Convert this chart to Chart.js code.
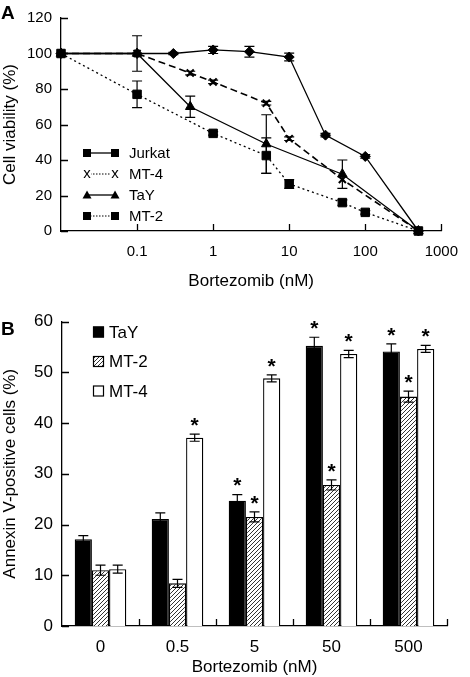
<!DOCTYPE html>
<html>
<head>
<meta charset="utf-8">
<script src="https://cdn.jsdelivr.net/npm/chart.js@4.4.0/dist/chart.umd.min.js"></script>
<style>
  html, body { margin: 0; padding: 0; background: #fff; }
  body { width: 470px; height: 677px; position: relative; overflow: hidden; font-family: "Liberation Sans", Arial, sans-serif; }
  #chartA { position: absolute; left: 0; top: 0; }
  #chartB { position: absolute; left: 0; top: 300px; }
  .panel { position: absolute; left: 1px; font-weight: bold; font-size: 19px; line-height: 22px; }
</style>
</head>
<body>
<canvas id="chartA" width="470" height="300"></canvas>
<canvas id="chartB" width="470" height="380"></canvas>
<div class="panel" style="top:2px">A</div>
<div class="panel" style="top:318px">B</div>
<script>
const FONT = '"Liberation Sans", Arial, Helvetica, sans-serif';

// Panel A - cell viability (%), control (0 nM) sits at the left edge (0.01)
const jurkatDose = [0.01, 0.1, 0.3, 1, 3, 10, 30, 100, 500];
const jurkatViability = [100, 100, 100, 102, 101, 98, 54, 42, 0];
const jurkatErr = [0, 0, 0.6, 2, 3, 2.2, 1, 1, 0];

const mt4Dose = [0.01, 0.1, 0.5, 1, 5, 10, 50, 500];
const mt4Viability = [100, 100, 89, 84, 72, 52, 29, 0];
const mt4Err = [0, 0, 1, 1, 1, 1, 0, 0];

const tayDose = [0.01, 0.1, 0.5, 5, 50, 500];
const tayViability = [100, 100, 70, 49, 32, 0];
const tayErr = [0, 10, 6, 16.5, 8, 0];

const mt2Dose = [0.01, 0.1, 1, 5, 10, 50, 100, 500];
const mt2Viability = [100, 77, 55, 42.5, 26.5, 16, 10.5, 0];
const mt2Err = [0, 7.5, 1, 10, 2.5, 1.5, 1, 0];

const xTicksA = [0.01, 0.1, 1, 10, 100, 1000];
const yTicksA = [0, 20, 40, 60, 80, 100, 120];
const legendNamesA = ['Jurkat', 'MT-4', 'TaY', 'MT-2'];

// Panel B - annexin V-positive cells (%)
const doseLabels = ['0', '0.5', '5', '50', '500'];
const tayAnnexin = [17.1, 21.1, 24.7, 55.2, 54.1];
const tayAnnexinErr = [0.7, 1.2, 1.2, 1.7, 1.5];
const taySig = [0, 0, 1, 1, 1];
const mt2Annexin = [11.0, 8.4, 21.5, 27.8, 45.2];
const mt2AnnexinErr = [1.0, 0.8, 1.0, 1.0, 1.1];
const mt2Sig = [0, 0, 1, 1, 1];
const mt4Annexin = [11.2, 37.1, 48.8, 53.6, 54.6];
const mt4AnnexinErr = [0.8, 0.7, 0.7, 0.7, 0.7];
const mt4Sig = [0, 1, 1, 1, 1];
const yTicksB = [0, 10, 20, 30, 40, 50, 60];

Chart.defaults.font.family = FONT;
Chart.defaults.color = '#000';

function points(xs, ys) {
  return xs.map((x, i) => ({ x: x, y: ys[i] }));
}

function valueOf(d) {
  return typeof d === 'object' ? d.y : d;
}

// short tick marks pointing into the plot
const innerTicks = {
  id: 'innerTicks',
  afterDraw(chart, args, opts) {
    const { ctx, chartArea: a, scales: { x, y } } = chart;
    ctx.save();
    ctx.strokeStyle = '#000';
    ctx.lineWidth = 1.3;
    ctx.beginPath();
    opts.xValues.forEach(v => {
      const px = Math.round(x.getPixelForValue(v)) + 0.5;
      ctx.moveTo(px, a.bottom);
      ctx.lineTo(px, a.bottom - 7);
    });
    opts.yValues.forEach(v => {
      const py = Math.round(y.getPixelForValue(v)) + 0.5;
      ctx.moveTo(a.left, py);
      ctx.lineTo(a.left + 7, py);
    });
    ctx.stroke();
    ctx.restore();
  }
};

// error bars (+ asterisks) from each dataset's errors / stars arrays
const errorBars = {
  id: 'errorBars',
  afterDatasetsDraw(chart, args, opts) {
    const { ctx, scales: { y } } = chart;
    ctx.save();
    ctx.strokeStyle = '#000';
    ctx.fillStyle = '#000';
    ctx.lineWidth = 1.2;
    chart.data.datasets.forEach((ds, di) => {
      const meta = chart.getDatasetMeta(di);
      (ds.errors || []).forEach((e, i) => {
        const el = meta.data[i];
        const v = valueOf(ds.data[i]);
        const top = y.getPixelForValue(v + e);
        if (e) {
          const bot = y.getPixelForValue(v - e);
          ctx.beginPath();
          ctx.moveTo(el.x, top); ctx.lineTo(el.x, bot);
          ctx.moveTo(el.x - opts.cap, top); ctx.lineTo(el.x + opts.cap, top);
          ctx.moveTo(el.x - opts.cap, bot); ctx.lineTo(el.x + opts.cap, bot);
          ctx.stroke();
        }
        if (ds.stars && ds.stars[i]) {
          ctx.font = 'bold 21px ' + FONT;
          ctx.textAlign = 'center';
          ctx.textBaseline = 'middle';
          ctx.fillText('*', el.x, top - 8);
        }
      });
    });
    ctx.restore();
  }
};

const legendA = {
  id: 'legendA',
  afterDraw(chart, args, opts) {
    const { ctx, chartArea: a } = chart;
    ctx.save();
    ctx.fillStyle = '#000';
    ctx.strokeStyle = '#000';
    ctx.font = '15px ' + FONT;
    ctx.textBaseline = 'middle';
    legendNamesA.forEach((name, i) => {
      const st = opts.styles[i];
      const y = a.top + 135 + i * 21;
      const x1 = a.left + 26, x2 = a.left + 54;
      ctx.lineWidth = st.dotted ? 1 : 1.3;
      ctx.setLineDash(st.dotted ? [1.5, 1.5] : []);
      ctx.beginPath();
      ctx.moveTo(x1, y); ctx.lineTo(x2, y);
      ctx.stroke();
      ctx.setLineDash([]);
      [x1, x2].forEach(mx => {
        if (st.marker === 'square') {
          ctx.fillRect(mx - 4, y - 4, 8, 8);
        } else if (st.marker === 'triangle') {
          ctx.beginPath();
          ctx.moveTo(mx, y - 4.5); ctx.lineTo(mx + 4.5, y + 3.5); ctx.lineTo(mx - 4.5, y + 3.5);
          ctx.closePath(); ctx.fill();
        } else {
          ctx.fillStyle = '#fff';
          ctx.fillRect(mx - 4, y - 5, 8, 10);
          ctx.fillStyle = '#000';
          ctx.textAlign = 'center';
          ctx.fillText('x', mx, y);
        }
      });
      ctx.textAlign = 'left';
      ctx.fillText(name, a.left + 68, y + 1);
    });
    ctx.restore();
  }
};

const legendB = {
  id: 'legendB',
  afterDraw(chart) {
    const { ctx, chartArea: a } = chart;
    ctx.save();
    ctx.font = '17px ' + FONT;
    ctx.textBaseline = 'middle';
    ctx.lineWidth = 1.2;
    chart.data.datasets.forEach((ds, i) => {
      const y = a.top + 10.5 + i * 29.5;
      const x = a.left + 31;
      ctx.fillStyle = ds.backgroundColor;
      ctx.fillRect(x, y - 5.5, 11, 11);
      ctx.strokeStyle = '#000';
      ctx.strokeRect(x + 0.5, y - 5, 10, 10);
      ctx.fillStyle = '#000';
      ctx.fillText(ds.label, x + 16, y + 1);
    });
    ctx.restore();
  }
};

const lineStyle = {
  borderColor: '#000', backgroundColor: '#000',
  pointBackgroundColor: '#000', pointBorderColor: '#000',
  borderWidth: 1.3, tension: 0, clip: false, fill: false
};

new Chart(document.getElementById('chartA'), {
  type: 'line',
  data: {
    datasets: [
      Object.assign({ label: 'Jurkat', data: points(jurkatDose, jurkatViability), errors: jurkatErr,
        pointStyle: 'rectRot', pointRadius: 5, pointBorderWidth: 1 }, lineStyle),
      Object.assign({ label: 'MT-4', data: points(mt4Dose, mt4Viability), errors: mt4Err,
        pointStyle: 'crossRot', pointRadius: 5, pointBorderWidth: 2 }, lineStyle, { borderDash: [7, 4], borderWidth: 1.6 }),
      Object.assign({ label: 'TaY', data: points(tayDose, tayViability), errors: tayErr,
        pointStyle: 'triangle', pointRadius: 5.5, pointBorderWidth: 1 }, lineStyle),
      Object.assign({ label: 'MT-2', data: points(mt2Dose, mt2Viability), errors: mt2Err,
        pointStyle: 'rect', pointRadius: 6, pointBorderWidth: 1 }, lineStyle, { borderDash: [2, 3], borderWidth: 1.3 })
    ]
  },
  options: {
    responsive: false,
    animation: false,
    layout: { padding: { top: 10, right: 23, bottom: 8, left: 0 } },
    plugins: {
      legend: { display: false },
      tooltip: { enabled: false },
      innerTicks: { xValues: xTicksA.slice(1), yValues: yTicksA },
      errorBars: { cap: 5 },
      legendA: { styles: [
        { marker: 'square', dotted: false },
        { marker: 'x', dotted: true },
        { marker: 'triangle', dotted: false },
        { marker: 'square', dotted: true }
      ] }
    },
    scales: {
      x: {
        type: 'logarithmic', min: 0.01, max: 1000,
        grid: { display: false, drawTicks: false },
        border: { display: true, color: '#000', width: 1.3 },
        afterBuildTicks: s => { s.ticks = xTicksA.map(v => ({ value: v })); },
        afterFit: s => { s.height = 61; },
        ticks: { autoSkip: false, maxRotation: 0, padding: 12, font: { size: 15 },
          callback: v => v === 0.01 ? '' : String(v) },
        title: { display: true, text: 'Bortezomib (nM)', font: { size: 17 }, padding: { top: 0, bottom: 0 } }
      },
      y: {
        min: 0, max: 120,
        grid: { display: false, drawTicks: false },
        border: { display: true, color: '#000', width: 1.3 },
        afterFit: s => { s.width = 61; },
        ticks: { stepSize: 20, padding: 9, font: { size: 15 } },
        title: { display: true, text: 'Cell viability (%)', font: { size: 17 }, padding: { top: 0, bottom: 0 } }
      }
    }
  },
  plugins: [innerTicks, errorBars, legendA]
});

// diagonal hatching for MT-2 bars
const tile = document.createElement('canvas');
tile.width = 4; tile.height = 4;
const tg = tile.getContext('2d');
tg.fillStyle = '#fff';
tg.fillRect(0, 0, 4, 4);
tg.strokeStyle = '#333';
tg.lineWidth = 1;
tg.beginPath();
tg.moveTo(0, 4); tg.lineTo(4, 0);
tg.moveTo(-1, 1); tg.lineTo(1, -1);
tg.moveTo(3, 5); tg.lineTo(5, 3);
tg.stroke();
const ctxB = document.getElementById('chartB').getContext('2d');
const hatch = ctxB.createPattern(tile, 'repeat');

new Chart(ctxB, {
  type: 'bar',
  data: {
    labels: doseLabels,
    datasets: [
      { label: 'TaY', data: tayAnnexin, errors: tayAnnexinErr, stars: taySig,
        backgroundColor: '#000', borderColor: '#000', borderWidth: 1.3 },
      { label: 'MT-2', data: mt2Annexin, errors: mt2AnnexinErr, stars: mt2Sig,
        backgroundColor: hatch, borderColor: '#000', borderWidth: 1.3 },
      { label: 'MT-4', data: mt4Annexin, errors: mt4AnnexinErr, stars: mt4Sig,
        backgroundColor: '#fff', borderColor: '#000', borderWidth: 1.3 }
    ]
  },
  options: {
    responsive: false,
    animation: false,
    layout: { padding: { top: 21.5, right: 23, bottom: 0, left: 0 } },
    datasets: { bar: { categoryPercentage: 0.67, barPercentage: 1 } },
    plugins: {
      legend: { display: false },
      tooltip: { enabled: false },
      innerTicks: { xValues: [0.5, 1.5, 2.5, 3.5, 4.5], yValues: yTicksB },
      errorBars: { cap: 5 }
    },
    scales: {
      x: {
        grid: { display: false, drawTicks: false },
        border: { display: true, color: '#000', width: 1.3 },
        afterFit: s => { s.height = 54; },
        ticks: { padding: 11, font: { size: 17 } },
        title: { display: true, text: 'Bortezomib (nM)', font: { size: 17 }, padding: { top: 0, bottom: 2.5 } }
      },
      y: {
        min: 0, max: 60,
        grid: { display: false, drawTicks: false },
        border: { display: true, color: '#000', width: 1.3 },
        afterFit: s => { s.width = 62; },
        ticks: { stepSize: 10, padding: 9, font: { size: 17 } },
        title: { display: true, text: 'Annexin V-positive cells (%)', font: { size: 17 }, padding: { top: 0, bottom: 0 } }
      }
    }
  },
  plugins: [innerTicks, errorBars, legendB]
});
</script>
</body>
</html>
